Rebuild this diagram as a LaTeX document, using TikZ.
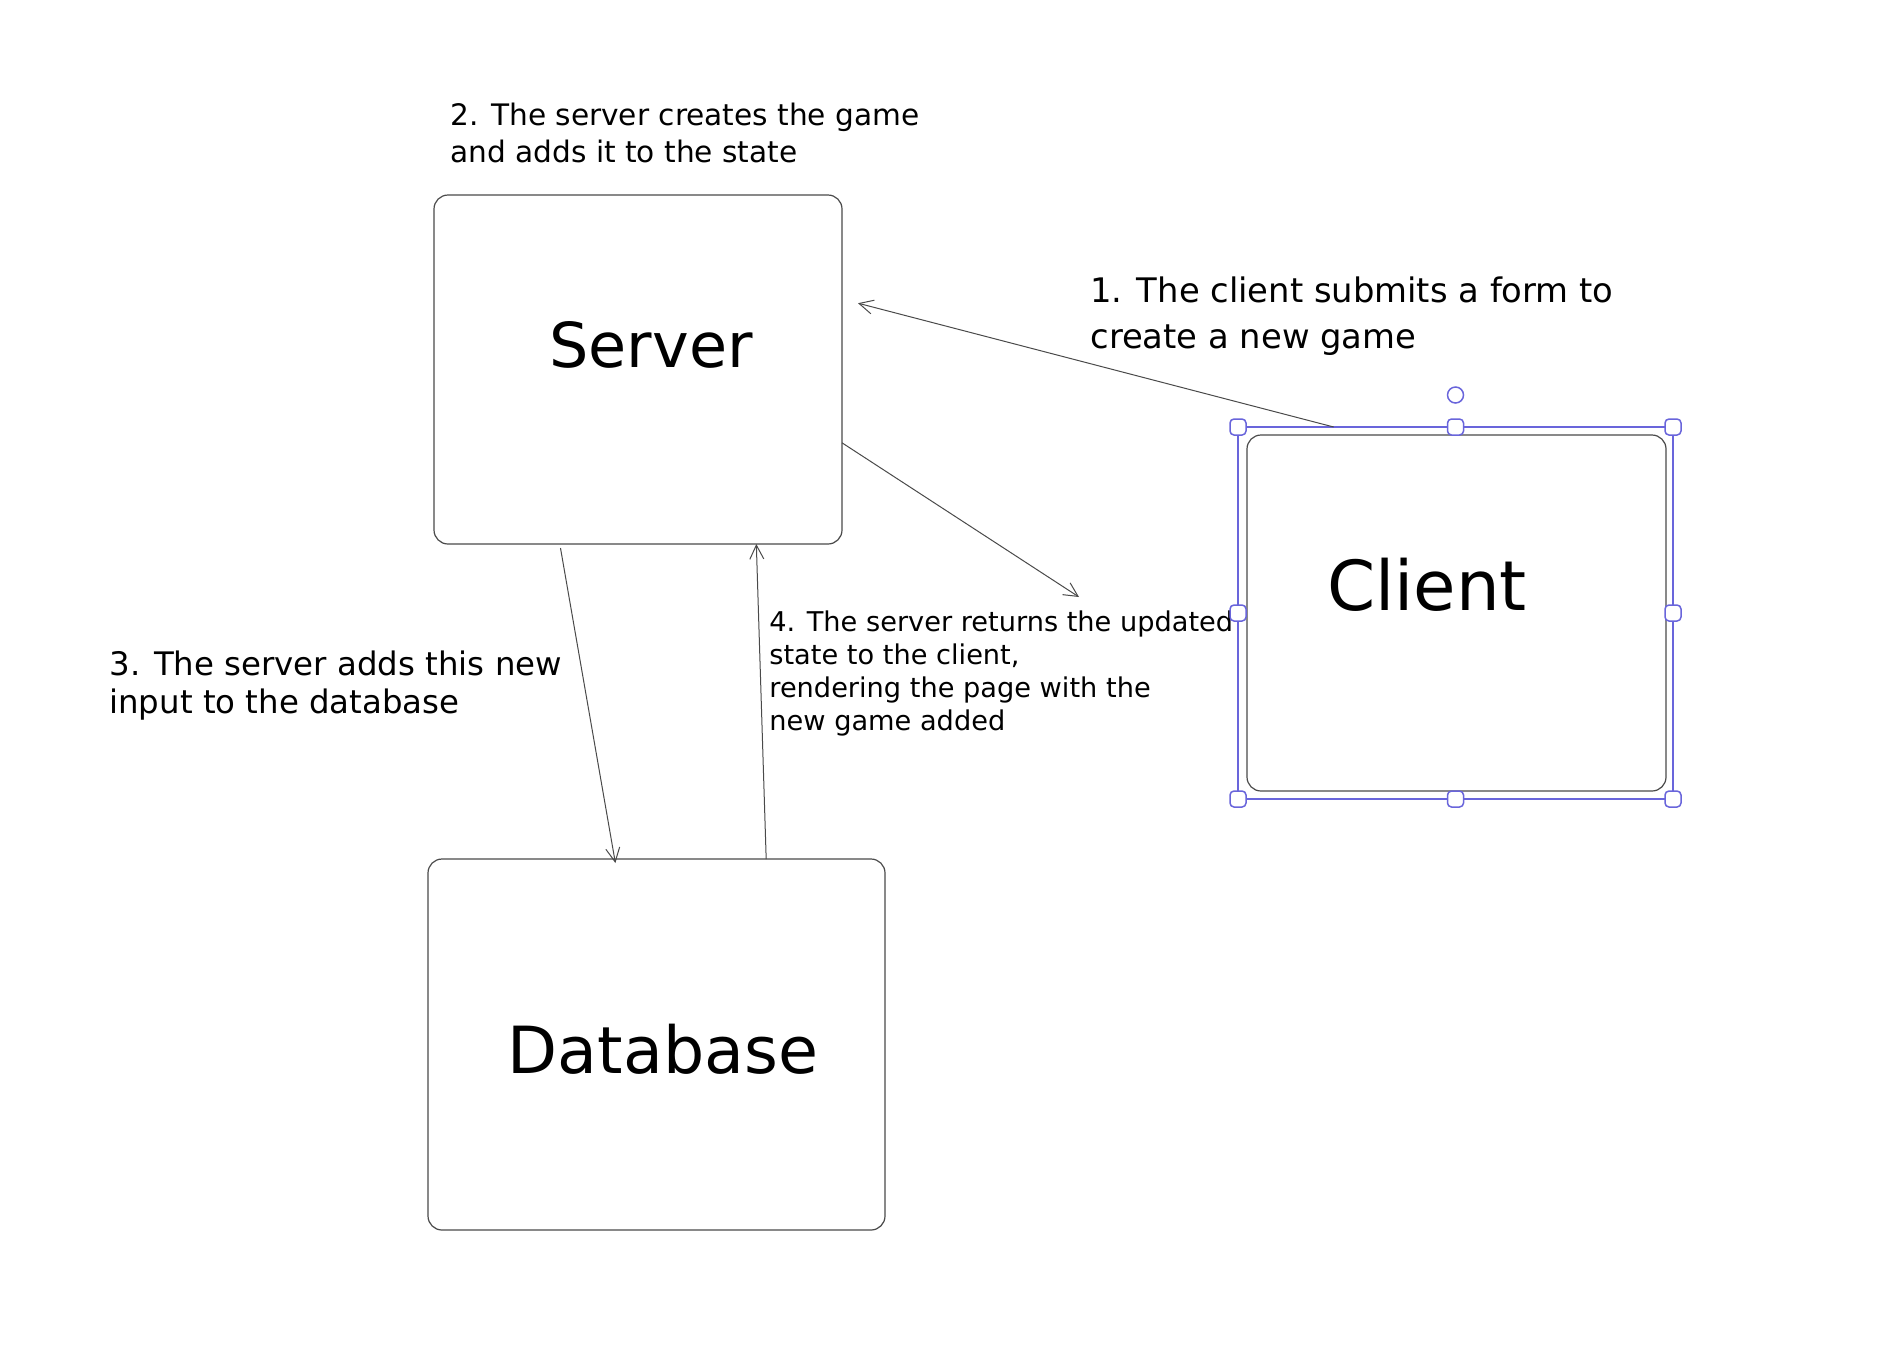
\documentclass[tikz,border=0pt]{standalone}
\usepackage{fontspec}
\setmainfont{DejaVu Sans}
\usetikzlibrary{calc,arrows.meta}
\definecolor{selblue}{HTML}{6965DB}
\definecolor{boxgray}{HTML}{4A4A4A}
\def\notefont#1#2{\fontsize{#1}{#2}\selectfont}

\begin{document}
\begin{tikzpicture}[x=0.5pt, y=-0.5pt,
	box/.style={draw=boxgray, line width=0.6pt, rounded corners=7pt, inner sep=0pt, outer sep=0pt},
	selframe/.style={draw=selblue, line width=0.75pt, inner sep=0pt, outer sep=0pt},
	handle/.style={draw=selblue, fill=white, line width=0.75pt, rounded corners=2pt, minimum size=8pt, inner sep=0pt},
	rothandle/.style={circle, draw=selblue, fill=white, line width=0.75pt, minimum size=8pt, inner sep=0pt},
	bigname/.style={anchor=base, inner sep=0pt},
	note/.style={anchor=base west, align=left, inner sep=0pt},
	flow/.style={draw=boxgray, line width=0.5pt, -{Straight Barb[length=7pt, width=7pt]}}]
		%%%%% START %%%%%
		
		\fill[white] (0, 0) rectangle (1894, 1362);
		\useasboundingbox (0, 0) rectangle (1894, 1362);
		
		\node[box, minimum width=204pt, minimum height=174.5pt] (server) at (638, 369.5) {};
		\node[box, minimum width=228.5pt, minimum height=185.5pt] (database) at (656.5, 1044.5) {};
		\node[box, minimum width=209.5pt, minimum height=178pt] (client) at (1456.5, 613) {};
		
		\node[bigname, font=\notefont{31}{36}] (servertext) at (651, 367) {Server};
		\node[bigname, font=\notefont{34.5}{40}] (clienttext) at (1427, 610) {Client};
		\node[bigname, font=\notefont{32.5}{38}] (dbtext) at (663, 1073) {Database};
		
		% base west sits on the last line
		\node[note, font=\notefont{14.8}{18.5}] (step2) at (450, 162) {2. The server creates the game\\and adds it to the state};
		\node[note, font=\notefont{16.9}{23}] (step1) at (1090, 348) {1. The client submits a form to\\create a new game};
		\node[note, font=\notefont{16.2}{19}] (step3) at (109, 713) {3. The server adds this new\\input to the database};
		\node[note, font=\notefont{13.6}{16.5}] (step4) at (769, 730) {4. The server returns the updated\\state to the client,\\rendering the page with the\\new game added};
		
		% selection around the client
		\node[selframe, minimum width=217.5pt, minimum height=186pt] (clientsel) at (1455.5, 613) {};
		\foreach \pos/\tag in {north west/nw, north/n, north east/ne, east/e, south east/se, south/s, south west/sw, west/w}
			\node[handle] (handle-\tag) at (clientsel.\pos) {};
		\node[rothandle] (rotate) at ($(clientsel.north)+(0, -32)$) {};
		
		\draw[flow] ($(clientsel.north west)!0.22!(clientsel.north east)$) -- ($(server.north east)!0.31!(server.south east)+(16, 0)$);
		
		\coordinate (returntip) at (1079, 597);
		\draw[flow] ($(server.north east)!0.71!(server.south east)$) -- (returntip);
		
		\draw[flow] ($(server.south west)!0.31!(server.south east)+(0, 4)$) -- ($(database.north west)!0.41!(database.north east)+(0, 4)$);
		\draw[flow] ($(database.north west)!0.74!(database.north east)$) -- ($(server.south west)!0.79!(server.south east)$);
		
		%%%%% END %%%%%
	\end{tikzpicture}
\end{document}
